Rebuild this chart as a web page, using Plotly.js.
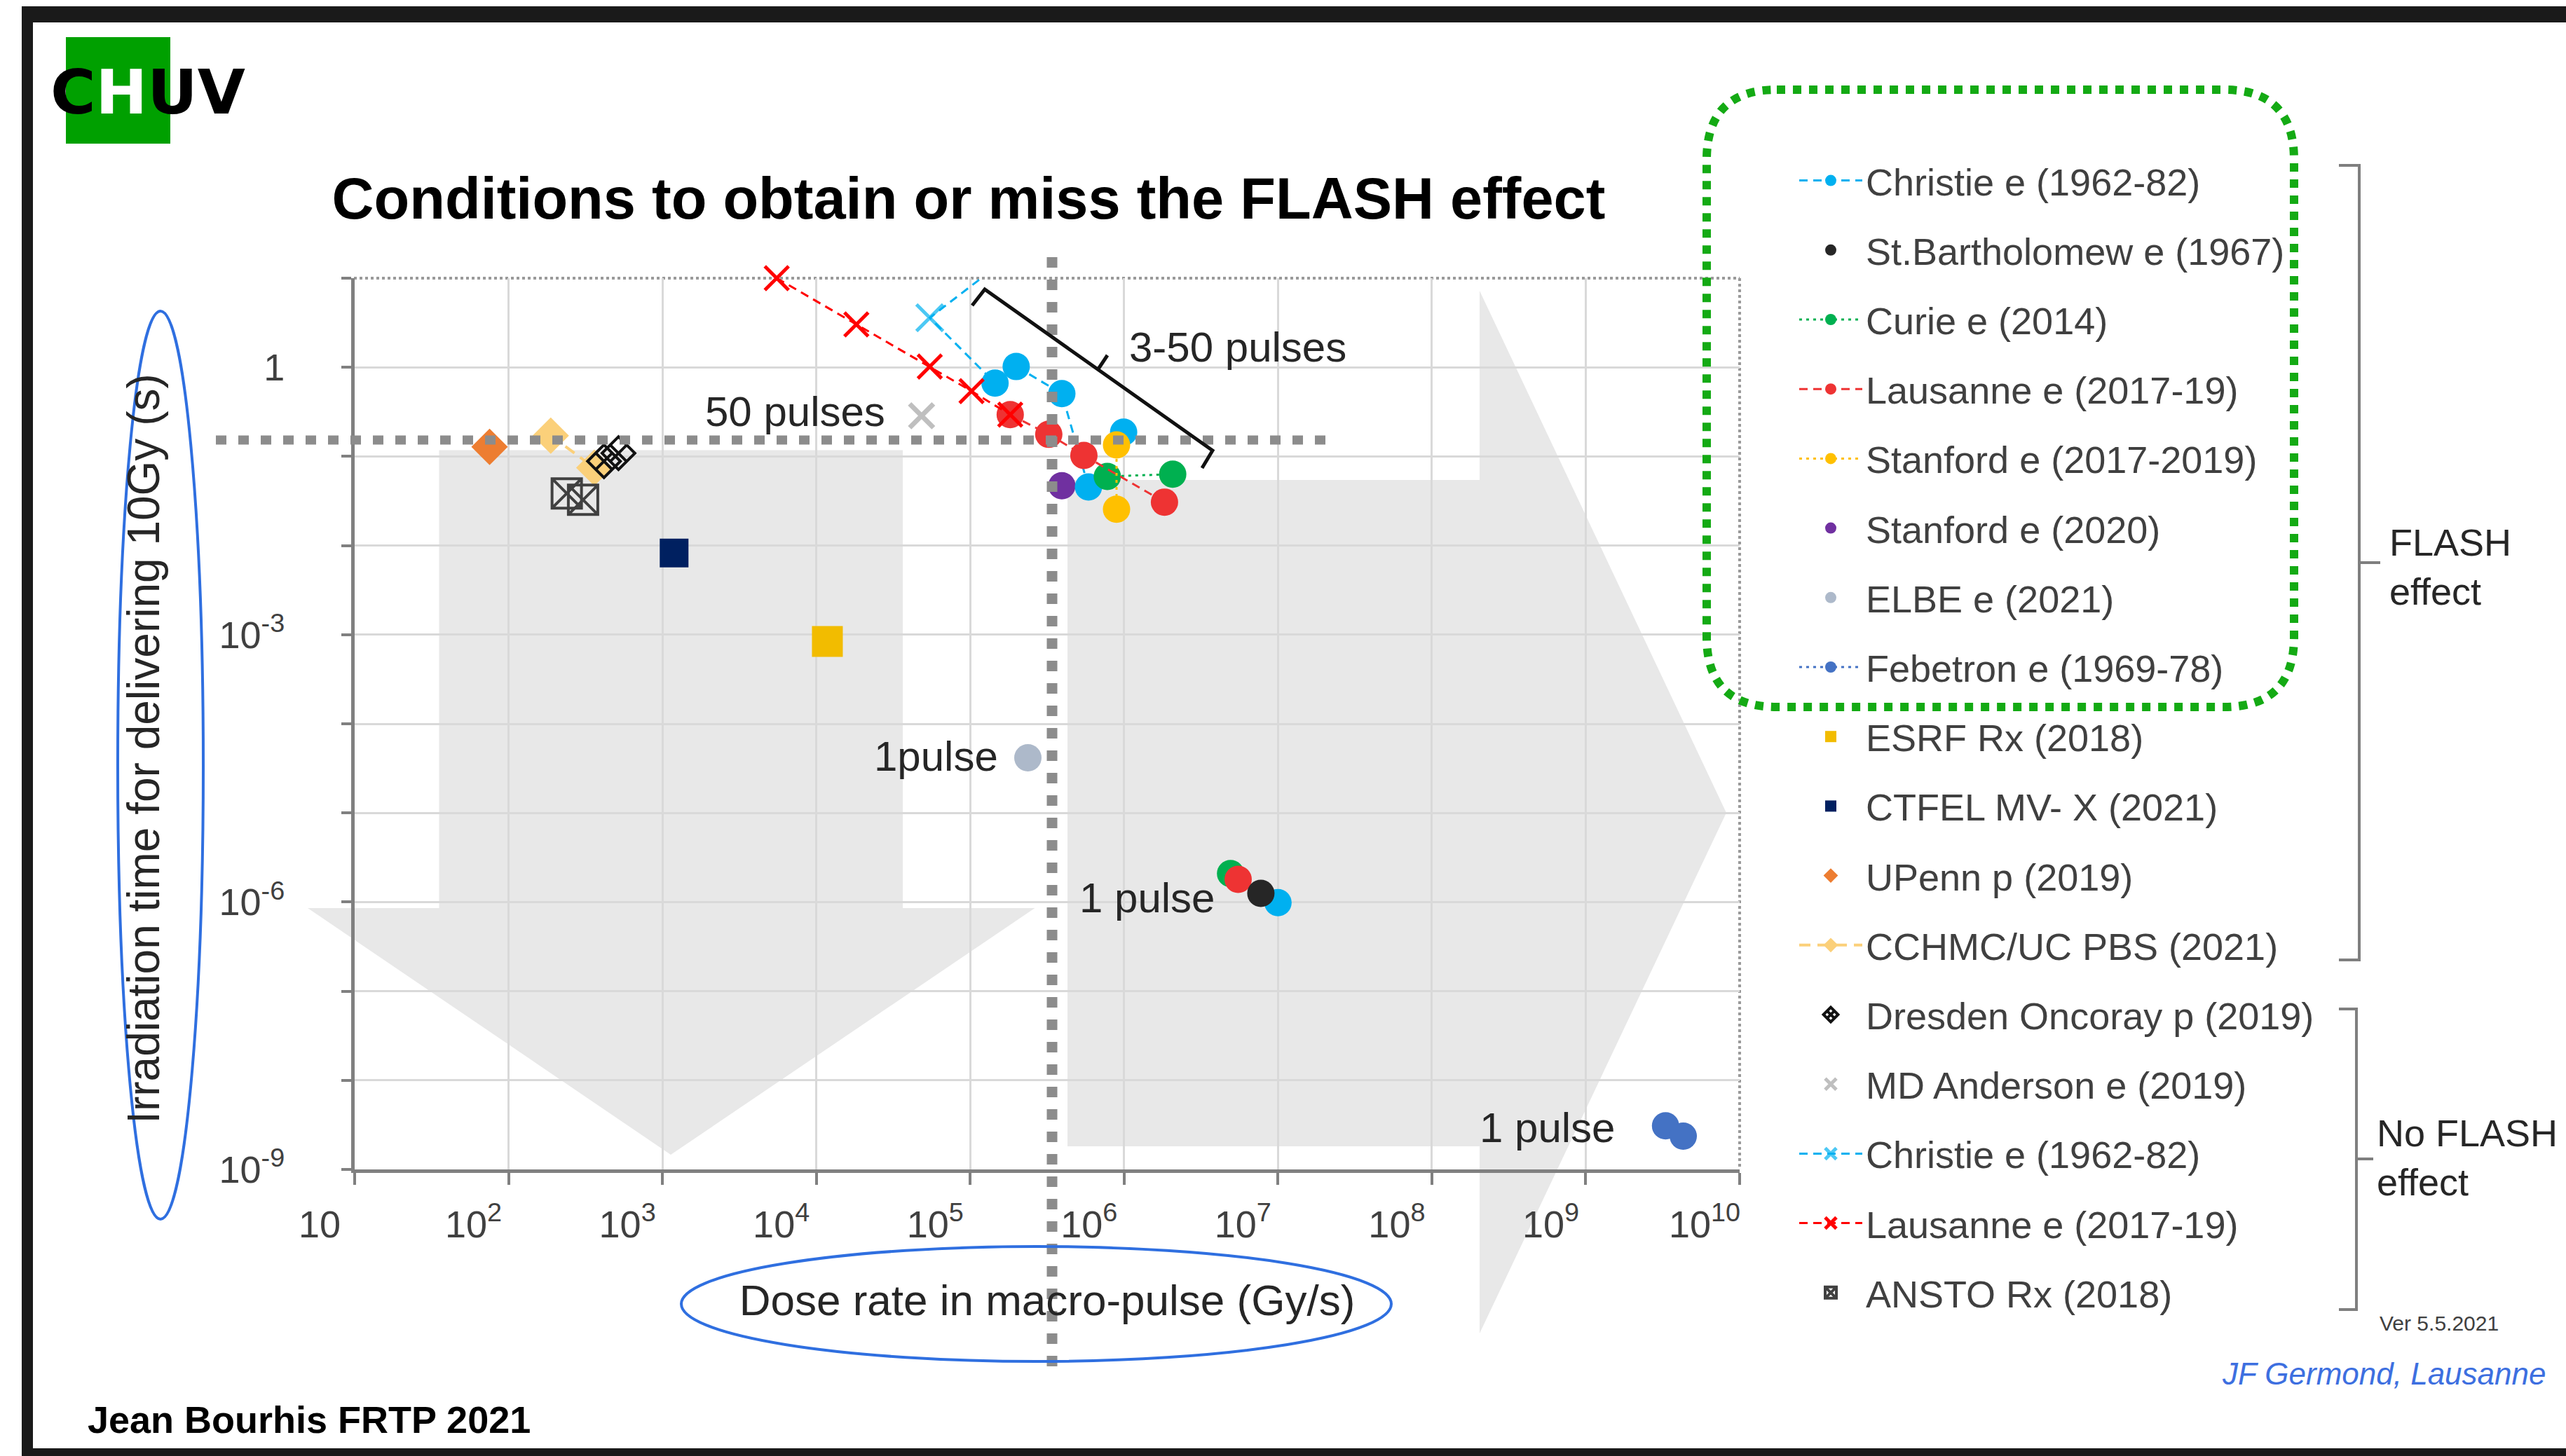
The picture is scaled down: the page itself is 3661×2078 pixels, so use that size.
<!DOCTYPE html>
<html><head><meta charset="utf-8">
<script src="https://cdn.plot.ly/plotly-3.0.1.min.js"></script>
<style>html,body{margin:0;padding:0;background:#fff;overflow:hidden}</style>
</head><body><div id="chart" style="width:3661px;height:2078px"></div>
<script>
// ---------------- data (dose rate Gy/s, irradiation time s) ----------------
const christieE_x = [1.45e5, 1.99e5, 3.94e5, 5.87e5, null, 9.93e5, null, 1.0e7];
const christieE_y = [0.665, 1.02, 0.507, 0.0454, null, 0.1875, null, 9.84e-7];
const stBart_x = [7.74e6];
const stBart_y = [1.25e-6];
const curie_x = [7.78e5, 2.07e6, null, 4.92e6];
const curie_y = [0.0596, 0.0632, null, 2.09e-6];
const lausE_x = [1.82e5, 3.24e5, 5.48e5, 1.83e6, null, 5.51e6];
const lausE_y = [0.294, 0.177, 0.1026, 0.0307, null, 1.80e-6];
const stan1719_x = [8.93e5, 8.93e5];
const stan1719_y = [0.1346, 0.0256];
const stan2020_x = [3.94e5];
const stan2020_y = [0.0469];
const elbe_x = [2.37e5];
const elbe_y = [4.16e-5];
const febetron_x = [3.30e9, 4.30e9];
const febetron_y = [3.09e-9, 2.36e-9];
const esrf_x = [1.18e4];
const esrf_y = [8.4e-4];
const ctfel_x = [1191];
const ctfel_y = [0.00826];
const upenn_x = [75.3];
const upenn_y = [0.128];
const cchmc_x = [188, 361];
const cchmc_y = [0.171, 0.0746];
const dresden_x = [417, 518];
const dresden_y = [0.0883, 0.1086];
const mdAnd_x = [4.83e4];
const mdAnd_y = [0.286];
const christieNo_x = [3.1e5, 5.46e4, 1.45e5];
const christieNo_y = [36, 3.6, 0.665];
const christieNo_size = [38, 38, 0];
const lausNo_x = [5530, 1.82e4, 5.46e4, 1.02e5, 1.82e5];
const lausNo_y = [10, 3.03, 1.02, 0.54, 0.294];
const ansto_x = [239, 305];
const ansto_y = [0.0385, 0.0326];

const xTickVals = [1e1,1e2,1e3,1e4,1e5,1e6,1e7,1e8,1e9,1e10];
const xTickText = ['10','10<sup>2</sup>','10<sup>3</sup>','10<sup>4</sup>','10<sup>5</sup>','10<sup>6</sup>','10<sup>7</sup>','10<sup>8</sup>','10<sup>9</sup>','10<sup>10</sup>'];
const yTickVals = [1e-9,1e-6,1e-3,1];
const yTickText = ['10<sup>-9</sup>','10<sup>-6</sup>','10<sup>-3</sup>','1'];
const yMinorVals = [1e-8,1e-7,1e-5,1e-4,1e-2,1e-1,10];

// ---------------- helpers (pixel -> paper) ----------------
const L=506, R=2482, T=397, B=1669;
const px = X => (X-L)/(R-L);
const py = Y => (B-Y)/(B-T);
function P(X,Y){ return px(X).toFixed(5)+','+py(Y).toFixed(5); }
function path(pts, close){ return pts.map((p,i)=>(i?'L':'M')+P(p[0],p[1])).join(' ')+(close?' Z':''); }

const FONT = 'Liberation Sans, Arial, Helvetica, sans-serif';

function tr(o){ return Object.assign({type:'scatter', cliponaxis:true}, o); }
const traces = [
  tr({name:'ELBE e (2021)', legendrank:7, legendgroup:'g7', x:elbe_x, y:elbe_y, mode:'markers', marker:{symbol:'circle', size:39, color:'#adb9ca'}}),
  tr({name:'Febetron e (1969-78)', legendrank:8, legendgroup:'g8', x:febetron_x, y:febetron_y, mode:'lines+markers', line:{color:'#4472c4', width:3, dash:'4px,6px'}, marker:{symbol:'circle', size:39, color:'#4472c4'}}),
  tr({name:'ESRF Rx (2018)', legendrank:9, legendgroup:'g9', x:esrf_x, y:esrf_y, mode:'markers', marker:{symbol:'square', size:44, color:'#f2bc00'}}),
  tr({name:'CTFEL MV- X (2021)', legendrank:10, legendgroup:'g10', x:ctfel_x, y:ctfel_y, mode:'markers', marker:{symbol:'square', size:41, color:'#002060'}}),
  tr({name:'UPenn p (2019)', legendrank:11, legendgroup:'g11', x:upenn_x, y:upenn_y, mode:'markers', marker:{symbol:'diamond', size:40, color:'#ed7d31'}}),
  tr({name:'CCHMC/UC PBS (2021)', legendrank:12, legendgroup:'g12', x:cchmc_x, y:cchmc_y, mode:'lines+markers', line:{color:'#fbd07a', width:4, dash:'16px,10px'}, marker:{symbol:'diamond', size:40, color:'#fbd07a'}}),
  tr({name:'ANSTO Rx (2018)', legendrank:17, legendgroup:'g17', x:ansto_x, y:ansto_y, mode:'markers', marker:{symbol:'square-x-open', size:42, color:'#404040', line:{color:'#404040', width:4}}}),
  tr({name:'Dresden Oncoray p (2019)', legendrank:13, legendgroup:'g13', x:dresden_x, y:dresden_y, mode:'markers', marker:{symbol:'diamond-x-open', size:36, color:'#111111', line:{color:'#111111', width:4}}}),
  tr({name:'Stanford e (2020)', legendrank:6, legendgroup:'g6', x:stan2020_x, y:stan2020_y, mode:'markers', marker:{symbol:'circle', size:39, color:'#7030a0'}}),
  tr({name:'Christie e (1962-82)', legendrank:1, legendgroup:'g1', x:christieE_x, y:christieE_y, mode:'lines+markers', line:{color:'#00b0f0', width:3, dash:'12px,8px'}, marker:{symbol:'circle', size:39, color:'#00b0f0'}}),
  tr({name:'Curie e (2014)', legendrank:3, legendgroup:'g3', x:curie_x, y:curie_y, mode:'lines+markers', line:{color:'#00b050', width:3, dash:'4px,6px'}, marker:{symbol:'circle', size:39, color:'#00b050'}}),
  tr({name:'Lausanne e (2017-19)', legendrank:4, legendgroup:'g4', x:lausE_x, y:lausE_y, mode:'lines+markers', line:{color:'#ee3333', width:3, dash:'12px,8px'}, marker:{symbol:'circle', size:39, color:'#ee3333'}}),
  tr({name:'St.Bartholomew e (1967)', legendrank:2, legendgroup:'g2', x:stBart_x, y:stBart_y, mode:'markers', marker:{symbol:'circle', size:39, color:'#262626'}}),
  tr({name:'Stanford e (2017-2019)', legendrank:5, legendgroup:'g5', x:stan1719_x, y:stan1719_y, mode:'lines+markers', line:{color:'#ffc000', width:3, dash:'4px,6px'}, marker:{symbol:'circle', size:39, color:'#ffc000'}}),
  tr({name:'MD Anderson e (2019)', legendrank:14, legendgroup:'g14', x:mdAnd_x, y:mdAnd_y, mode:'markers', marker:{symbol:'x-thin-open', size:34, color:'#bfbfbf', line:{color:'#bfbfbf', width:7}}}),
  tr({name:'Christie e (1962-82)', legendrank:15, legendgroup:'g15', x:christieNo_x, y:christieNo_y, mode:'lines+markers', line:{color:'#00b0f0', width:3, dash:'12px,8px'}, marker:{symbol:'x-thin-open', size:christieNo_size, color:'#00b0f0', line:{color:'#00b0f0', width:5}}}),
  tr({name:'Lausanne e (2017-19)', legendrank:16, legendgroup:'g16', x:lausNo_x, y:lausNo_y, mode:'lines+markers', cliponaxis:false, line:{color:'#ff0000', width:3, dash:'12px,8px'}, marker:{symbol:'x-thin-open', size:34, color:'#ff0000', line:{color:'#ff0000', width:5}}})
];

// ---------------- decorations ----------------
const gray = '#e8e8e8';
const gx0=2435, gx1=3273, gy0=128, gy1=1009, gr=100;
const greenPath = 'M'+P(gx0+gr,gy0)+' L'+P(gx1-gr,gy0)+' Q'+P(gx1,gy0)+' '+P(gx1,gy0+gr)+
  ' L'+P(gx1,gy1-gr)+' Q'+P(gx1,gy1)+' '+P(gx1-gr,gy1)+' L'+P(gx0+gr,gy1)+' Q'+P(gx0,gy1)+' '+P(gx0,gy1-gr)+
  ' L'+P(gx0,gy0+gr)+' Q'+P(gx0,gy0)+' '+P(gx0+gr,gy0)+' Z';

const shapes = [
  // big light gray arrows
  {type:'path', xref:'paper', yref:'paper', layer:'below', fillcolor:gray, line:{width:0},
   path:path([[626.5,642.5],[1288,642.5],[1288,1296],[1476.5,1296],[957,1648],[439,1296],[626.5,1296]], true)},
  {type:'path', xref:'paper', yref:'paper', layer:'below', fillcolor:gray, line:{width:0},
   path:path([[1523,685],[2111,685],[2111,415],[2463,1160],[2111,1903],[2111,1636],[1523,1636]], true)},
  // plot top / right borders (dotted)
  {type:'line', xref:'paper', yref:'paper', layer:'below', x0:px(497), x1:px(2482), y0:py(397), y1:py(397), line:{color:'#9a9a9a', width:4, dash:'dot'}},
  {type:'line', xref:'paper', yref:'paper', layer:'below', x0:px(2482), x1:px(2482), y0:py(397), y1:py(1669), line:{color:'#9a9a9a', width:4, dash:'dot'}},
  // threshold dotted lines
  {type:'line', xref:'paper', yref:'paper', layer:'above', x0:px(308), x1:px(1891), y0:py(628), y1:py(628), line:{color:'#8c8c8c', width:13, dash:'15px,17px'}},
  {type:'line', xref:'paper', yref:'paper', layer:'above', x0:px(1501), x1:px(1501), y0:py(367), y1:py(1952), line:{color:'#8c8c8c', width:15, dash:'15px,17px'}},
  // 3-50 pulses bracket
  {type:'path', xref:'paper', yref:'paper', layer:'above', line:{color:'#111', width:5},
   path:path([[1387,436],[1405,413],[1730,643],[1715,668]], false)},
  {type:'path', xref:'paper', yref:'paper', layer:'above', line:{color:'#111', width:5},
   path:path([[1566,528],[1580,507]], false)},
  // green dotted rounded box
  {type:'path', xref:'paper', yref:'paper', layer:'above', line:{color:'#14aa14', width:12, dash:'12px,11px'}, path:greenPath},
  // blue ellipses around axis titles
  {type:'circle', xref:'paper', yref:'paper', layer:'above', x0:px(168), x1:px(290), y0:py(444), y1:py(1740), line:{color:'#2f6fe0', width:4}},
  {type:'circle', xref:'paper', yref:'paper', layer:'above', x0:px(972), x1:px(1985), y0:py(1779), y1:py(1943), line:{color:'#2f6fe0', width:4}},
  // legend brackets
  {type:'path', xref:'paper', yref:'paper', layer:'above', line:{color:'#7f7f7f', width:4},
   path:path([[3337,236],[3366,236],[3366,1370],[3337,1370]], false)},
  {type:'path', xref:'paper', yref:'paper', layer:'above', line:{color:'#7f7f7f', width:4},
   path:path([[3366,803],[3396,803]], false)},
  {type:'path', xref:'paper', yref:'paper', layer:'above', line:{color:'#7f7f7f', width:4},
   path:path([[3337,1440],[3362,1440],[3362,1869],[3337,1869]], false)},
  {type:'path', xref:'paper', yref:'paper', layer:'above', line:{color:'#7f7f7f', width:4},
   path:path([[3362,1654],[3386,1654]], false)},
  // logo green block
  {type:'rect', xref:'paper', yref:'paper', layer:'above', x0:px(94), x1:px(243), y0:py(53), y1:py(205), fillcolor:'#00a000', line:{width:0}},
  // slide frame
  {type:'rect', xref:'paper', yref:'paper', layer:'above', x0:px(31), x1:px(3661), y0:py(9), y1:py(32), fillcolor:'#1a1a1a', line:{width:0}},
  {type:'rect', xref:'paper', yref:'paper', layer:'above', x0:px(31), x1:px(47), y0:py(9), y1:py(2078), fillcolor:'#1a1a1a', line:{width:0}},
  {type:'rect', xref:'paper', yref:'paper', layer:'above', x0:px(31), x1:px(3661), y0:py(2067), y1:py(2078), fillcolor:'#1a1a1a', line:{width:0}}
];

function ann(text, X, Y, opts){
  return Object.assign({text:text, xref:'paper', yref:'paper', x:px(X), y:py(Y), showarrow:false,
    xanchor:'center', yanchor:'middle', font:{family:FONT, size:60, color:'#262626'}}, opts||{});
}
const annotations = [
  ann('3-50 pulses', 1766, 495),
  ann('50 pulses', 1134, 587),
  ann('1pulse', 1335, 1079),
  ann('1 pulse', 1636, 1281),
  ann('1 pulse', 2207, 1609),
  ann('FLASH<br>effect', 3407, 809, {xanchor:'left', align:'left', font:{family:FONT, size:54, color:'#262626'}}),
  ann('No FLASH<br>effect', 3389, 1652, {xanchor:'left', align:'left', font:{family:FONT, size:54, color:'#262626'}}),
  ann('Ver 5.5.2021', 3480, 1888, {font:{family:FONT, size:30, color:'#404040'}}),
  ann('<i>JF Germond, Lausanne</i>', 3401, 1960, {font:{family:FONT, size:44, color:'#3d6fe0'}}),
  ann('<b>Jean Bourhis FRTP 2021</b>', 441, 2026, {font:{family:FONT, size:54, color:'#000'}}),
  ann('<b>C<span style="color:#ffffff">H</span>UV</b>', 211, 131, {font:{family:'DejaVu Sans, sans-serif', size:88, color:'#000'}})
];

const layout = {
  width:3661, height:2078,
  margin:{l:L, r:3661-R, t:T, b:2078-B, autoexpand:false},
  paper_bgcolor:'#ffffff', plot_bgcolor:'rgba(0,0,0,0)',
  font:{family:FONT, size:54, color:'#404040'},
  title:{text:'<b>Conditions to obtain or miss the FLASH effect</b>', font:{family:FONT, size:83, color:'#000'},
         x:1382/3661, xanchor:'center', y:1-283/2078, yanchor:'middle'},
  xaxis:{type:'log', range:[1,10], tickmode:'array', tickvals:xTickVals, ticktext:xTickText,
    showgrid:true, gridcolor:'#d9d9d9', gridwidth:3, zeroline:false,
    showline:true, linecolor:'#808080', linewidth:5,
    ticks:'outside', ticklen:17, tickwidth:4, tickcolor:'#808080',
    ticklabelshift:-50, ticklabelstandoff:10,
    tickfont:{family:FONT, size:54, color:'#404040'},
    title:{text:'Dose rate in macro-pulse (Gy/s)', font:{family:FONT, size:62, color:'#262626'}, standoff:59}},
  yaxis:{type:'log', range:[-9,1], tickmode:'array', tickvals:yTickVals, ticktext:yTickText,
    showgrid:true, gridcolor:'#d9d9d9', gridwidth:3, zeroline:false,
    showline:true, linecolor:'#808080', linewidth:5,
    ticks:'outside', ticklen:14, tickwidth:4, tickcolor:'#808080',
    minor:{tickmode:'array', tickvals:yMinorVals, ticks:'outside', ticklen:14, tickwidth:4, tickcolor:'#808080',
           showgrid:true, gridcolor:'#d9d9d9', gridwidth:3},
    ticklabelstandoff:70,
    tickfont:{family:FONT, size:54, color:'#404040'},
    title:{text:'Irradiation time for delivering 10Gy (s)&nbsp;&nbsp;&nbsp;&nbsp;', font:{family:FONT, size:64, color:'#262626'}, standoff:66}},
  showlegend:true,
  legend:{x:px(2562), xanchor:'left', y:py(216), yanchor:'top', bgcolor:'rgba(0,0,0,0)', maxheight:1950,
    font:{family:FONT, size:54, color:'#404040'}, traceorder:'grouped', tracegroupgap:26, itemwidth:90},
  shapes:shapes, annotations:annotations
};

Plotly.newPlot('chart', traces, layout, {displayModeBar:false, staticPlot:true});
</script></body></html>
